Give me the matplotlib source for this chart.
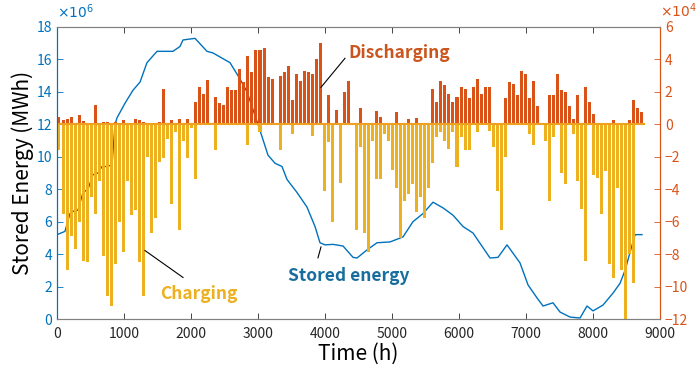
import numpy as np
import matplotlib
matplotlib.use("Agg")
import matplotlib.pyplot as plt

plt.rcParams['font.family'] = ['Noto Sans CJK JP', 'DejaVu Sans']
plt.rcParams['axes.unicode_minus'] = True

# stored energy: hours / MWh (x 1e6)
energy_hours = [0, 60, 119, 194, 269, 313, 388, 463, 537, 612, 672, 746, 821, 866, 896,
                1015, 1134, 1239, 1343, 1493, 1731, 1836, 1881, 2060, 2239, 2328, 2582,
                2731, 2836, 3000, 3075, 3149, 3254, 3358, 3433, 3582, 3731, 3851, 3925,
                4000, 4119, 4269, 4418, 4478, 4627, 4776, 4970, 5164, 5313, 5463, 5612,
                5761, 5910, 6060, 6209, 6463, 6582, 6716, 6910, 7030, 7164, 7254, 7403,
                7507, 7657, 7806, 7910, 8000, 8149, 8299, 8403, 8478, 8552, 8627, 8731]
energy_mwh = [5.2, 5.3, 5.4, 6.5, 6.7, 6.7, 7.8, 8.0, 8.9, 9.0, 9.4, 9.4, 9.5, 12.0, 12.4,
              13.3, 14.1, 14.6, 15.8, 16.5, 16.5, 16.8, 17.2, 17.3, 16.5, 16.4, 15.8,
              14.8, 14.0, 12.0, 11.05, 10.1, 9.6, 9.4, 8.6, 7.8, 6.9, 5.7, 4.7,
              4.57, 4.6, 4.5, 3.8, 3.76, 4.26, 4.7, 4.75, 5.06, 6.0, 6.5, 7.2,
              6.85, 6.4, 5.7, 5.3, 3.76, 3.8, 4.57, 3.46, 2.1, 1.3, 0.8, 1.0,
              0.43, 0.12, 0.06, 0.8, 0.5, 0.86, 1.6, 2.2, 3.0, 4.1, 5.2, 5.2]

# charge / discharge power, peak of each 60 h block (x 1e4)
bin_hours = 60
discharge = [0.45, 0.25, 0.35, 0.45, 0, 0.55, 0.2, 0, 0, 1.2,
             0, 0.15, 0.15, 0, 0.15, 0, 0.25, 0, 0, 0.35,
             0.25, 0.15, 0, 0, 0, 0.15, 2.2, 0, 0.25, 0,
             0.35, 0, 0.3, 0, 1.4, 2.3, 1.9, 2.75, 0, 1.7,
             1.3, 1.2, 2.3, 2.1, 2.1, 3.4, 2.6, 4.2, 3.2, 4.6,
             4.6, 4.7, 2.9, 2.8, 0, 3.0, 3.2, 3.6, 1.5, 3.1,
             2.7, 3.3, 3.2, 3.1, 4.0, 5.0, 0, 1.8, 0, 0.9,
             0, 2.0, 2.7, 0, 0, 1.0, 0, 0, 0, 0.8,
             0.45, 0, 0, 0, 0.75, 0, 0, 0.3, 0, 0.4,
             0, 0, 0, 2.2, 1.4, 2.7, 2.4, 1.9, 1.4, 1.7,
             2.3, 2.2, 1.6, 2.3, 2.8, 1.9, 2.3, 2.3, 0, 0,
             0, 1.6, 2.6, 2.5, 1.8, 3.3, 3.1, 1.6, 2.7, 1.1,
             0, 0, 1.8, 1.8, 3.1, 2.1, 2.0, 1.1, 0.35, 1.8,
             0, 2.3, 1.4, 0.65, 0, 0, 0, 0, 0.25, 0,
             0, 0.1, 0.25, 1.5, 1.0, 0.75]
charge = [-1.6, -5.5, -9.0, -6.9, -7.7, -6.0, -8.4, -8.5, -4.5, -5.5,
          -3.5, -8.1, -10.6, -11.2, -8.6, -6.0, -7.9, -3.5, -5.6, -5.3,
          -8.5, -10.6, -2.0, -6.7, -5.8, -2.3, -2.1, -0.9, -4.9, -0.5,
          -6.5, -1.0, -2.1, -0.2, -3.4, 0, 0, 0, 0, -1.6,
          0, 0, 0, 0, 0, 0, 0, -1.3, 0, 0,
          -0.5, 0, 0, 0, 0, -1.6, 0, 0, -0.6, 0,
          0, 0, 0, -0.7, 0, 0, -4.1, -1.1, -6.0, 0,
          -3.6, 0, 0, 0, -6.5, -1.4, -6.7, -7.9, -1.0, -3.4,
          -3.4, -0.6, -1.0, -2.8, -3.9, -7.0, -4.7, -4.3, -3.7, -5.4,
          -4.5, -5.8, -3.9, -2.4, -0.8, -0.5, -1.0, -1.5, -0.5, -2.6,
          -0.8, -1.6, -1.6, 0, -0.5, 0, 0, -0.4, -1.4, -4.1,
          -6.5, -2.0, 0, 0, 0, 0, 0, -0.6, -1.3, 0,
          0, -1.0, -4.7, -0.8, 0, -3.0, -3.7, 0, -0.6, -3.5,
          -5.2, -8.4, 0, -3.1, -3.3, -5.5, -2.9, -8.6, -9.5, -3.9,
          -9.0, -12.0, -8.0, -9.8, 0, 0]

blue = '#0072BD'
orange = '#D95319'
yellow = '#EDB120'
tick_kw = dict(direction='in', length=4, width=0.6, labelsize=10)

fig = plt.figure(figsize=(7, 3.79), dpi=100)
ax = fig.add_axes([0.0814, 0.1583, 0.8615, 0.7705])
ax2 = ax.twinx()

ax.plot(energy_hours, energy_mwh, color=blue, lw=1.0)

centers = np.arange(len(discharge)) * bin_hours + bin_hours / 2
ax2.bar(centers, discharge, width=bin_hours * 0.75, color=orange, linewidth=0)
ax2.bar(centers, charge, width=bin_hours * 0.75, color=yellow, linewidth=0)
ax2.plot([0, len(discharge) * bin_hours], [0, 0], color='#F0A020', lw=1.5)

ax.set_xlim(0, 9000)
ax.set_ylim(0, 18)
ax2.set_ylim(-12, 6)
ax.set_xticks(range(0, 9001, 1000))
ax.set_yticks(range(0, 19, 2))
ax2.set_yticks(range(-12, 7, 2))

ax.tick_params(axis='x', colors='#262626', top=True, pad=6, **tick_kw)
ax.tick_params(axis='y', colors=blue, **tick_kw)
ax2.tick_params(axis='y', colors=orange, **tick_kw)
for a in (ax, ax2):
    a.spines['top'].set_color('#808080')
    a.spines['bottom'].set_color('#808080')
    a.spines['left'].set_color(blue)
    a.spines['right'].set_color(orange)
    for s in a.spines.values():
        s.set_linewidth(0.8)

ax.set_xlabel('Time (h)', fontsize=15, labelpad=1)
ax.set_ylabel('Stored Energy (MWh)', fontsize=15, color='black', labelpad=2)

ax.text(0.0, 1.02, r'$\times10^{6}$', transform=ax.transAxes, color=blue,
        fontsize=10, ha='left', va='bottom')
ax2.text(1.0, 1.025, r'$\times10^{4}$', transform=ax2.transAxes, color=orange,
         fontsize=10, ha='left', va='bottom')

# annotations
ax2.text(4343, 4.38, 'Discharging', color='#C9561E', fontsize=12.5,
         fontweight='bold', ha='left', va='center')
ax2.plot([4298, 3940], [4.07, 2.28], color='black', lw=0.8)
ax2.text(1537, -10.43, 'Charging', color=yellow, fontsize=12.5,
         fontweight='bold', ha='left', va='center')
ax2.plot([1881, 1313], [-9.44, -7.78], color='black', lw=0.8)
ax.text(3448, 2.65, 'Stored energy', color='#176E9E', fontsize=12.5,
        fontweight='bold', ha='left', va='center')
ax.plot([3895, 3940], [3.77, 4.44], color='black', lw=0.8)

fig.savefig('out.png', dpi=100)
